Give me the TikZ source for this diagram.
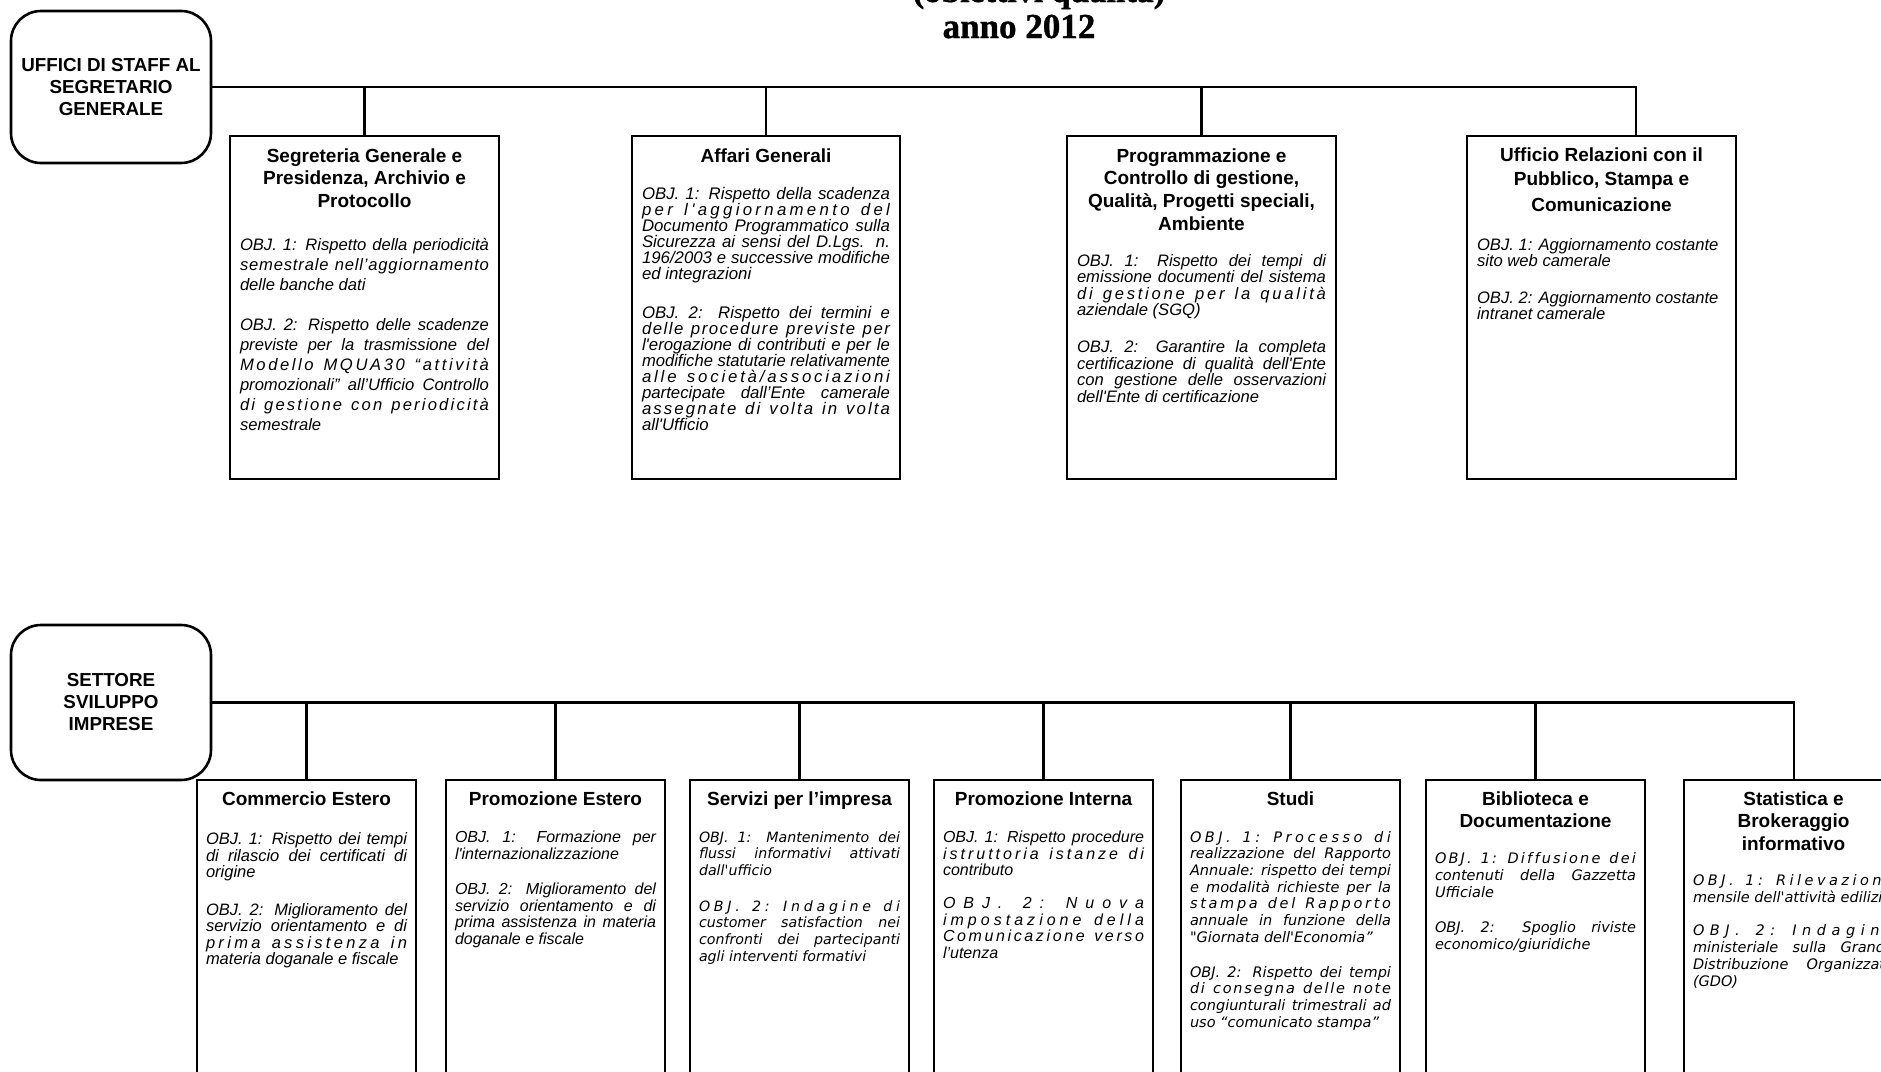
\documentclass[tikz,border=0pt]{standalone}
\usepackage{fontspec}
\usepackage{graphicx}
\setmainfont{Liberation Sans}[Ligatures=TeXOff]
\newfontfamily\Vfont{DejaVu Sans}[Ligatures=TeXOff,ItalicFont={DejaVu Sans Oblique},BoldFont={DejaVu Sans Bold}]
\newfontfamily\Sfont{Liberation Serif}[BoldFeatures={FakeBold=1}]
\newsavebox\LNbox
\newcommand\Lst{\rule{0pt}{22pt}}
\newcommand\Jline[1]{\sbox\LNbox{#1}\ifdim\wd\LNbox>\linewidth\resizebox{\linewidth}{\height}{\Lst#1}\else\makebox[\linewidth][s]{\Lst#1}\fi\par}
\ExplSyntaxOn
\NewDocumentCommand\Spread{m}{\str_map_inline:nn{#1}{##1\hfil}\unskip}
\ExplSyntaxOff
\newcommand\Lline[1]{\makebox[\linewidth][s]{\Lst\Spread{#1}}\par}
\newcommand\Pline[1]{\makebox[\linewidth][l]{\Lst#1}\par}
\newcommand\Cline[1]{\makebox[\linewidth][c]{\Lst#1}\par}
\newcommand\TitF{\lineskiplimit=-1000pt\fontsize{19}{22.7}\selectfont\bfseries}
\newcommand\ArF[2]{\fontsize{#1}{#2}\selectfont\mdseries\itshape}
\newcommand\VeF[2]{\Vfont\fontsize{#1}{#2}\selectfont\mdseries\itshape}
\tikzset{
  unit/.style={draw, line width=2.6pt, anchor=north west, inner xsep=10pt, inner ysep=0pt, outer sep=0pt},
  unitb/.style={unit, inner xsep=9pt},
  head/.style={draw, line width=2.6pt, rounded corners=30pt, minimum width=200pt, align=center,
    font=\bfseries\fontsize{18.8}{22}\selectfont, outer sep=0pt},
  link/.style={line width=2.6pt},
  ttl/.style={anchor=base, inner sep=0pt, font=\Sfont\bfseries\fontsize{34}{34}\selectfont}
}
\begin{document}
\begin{tikzpicture}[x=1pt,y=-1pt]
\useasboundingbox (0,0) rectangle (1881,1071);
\clip (0,0) rectangle (1881,1071);
% title
\node[ttl] (tt1) at (1039,2) {(obiettivi qualità)};
\node[ttl, font=\Sfont\bfseries\fontsize{35}{35}\selectfont] (tt2) at (1019,38) {anno 2012};
% heads
\node[head, minimum height=152pt] (staff) at (111,87) {UFFICI DI STAFF AL\\SEGRETARIO\\GENERALE};
\node[head, minimum height=155pt] (sett) at (111,702.5) {SETTORE\\SVILUPPO\\IMPRESE};
% top boxes
\node[unit] (seg) at (230,136) {\parbox[b][343pt][t]{249pt}{\TitF
\vspace*{4pt}
\Cline{Segreteria Generale e}
\Cline{Presidenza, Archivio e}
\Cline{Protocollo}
\ArF{16.6}{20}
\vspace{22.6pt}
\Jline{OBJ. 1: Rispetto della periodicità}
\Lline{semestrale nell’aggiornamento}
\Pline{delle banche dati}
\vspace{20pt}
\Jline{OBJ. 2: Rispetto delle scadenze}
\Jline{previste per la trasmissione del}
\Lline{Modello MQUA30 “attività}
\Jline{promozionali” all’Ufficio Controllo}
\Lline{di gestione con periodicità}
\Pline{semestrale}
}};
\node[unit] (aff) at (632,136) {\parbox[b][343pt][t]{248pt}{\TitF
\vspace*{4pt}
\Cline{Affari Generali}
\ArF{16.8}{16}
\vspace{21pt}
\Jline{OBJ. 1: Rispetto della scadenza}
\Lline{per l'aggiornamento del}
\Jline{Documento Programmatico sulla}
\Jline{Sicurezza ai sensi del D.Lgs. n.}
\Jline{196/2003 e successive modifiche}
\Pline{ed integrazioni}
\vspace{23pt}
\Jline{OBJ. 2: Rispetto dei termini e}
\Lline{delle procedure previste per}
\Jline{l'erogazione di contributi e per le}
\Jline{modifiche statutarie relativamente}
\Lline{alle società/associazioni}
\Jline{partecipate dall’Ente camerale}
\Lline{assegnate di volta in volta}
\Pline{all'Ufficio}
}};
\node[unit] (prog) at (1067,136) {\parbox[b][343pt][t]{249pt}{\TitF
\vspace*{4pt}
\Cline{Programmazione e}
\Cline{Controllo di gestione,}
\Cline{Qualità, Progetti speciali,}
\Cline{Ambiente}
\ArF{16.6}{16.5}
\vspace{19.4pt}
\Jline{OBJ. 1: Rispetto dei tempi di}
\Jline{emissione documenti del sistema}
\Lline{di gestione per la qualità}
\Pline{aziendale (SGQ)}
\vspace{20.5pt}
\Jline{OBJ. 2: Garantire la completa}
\Jline{certificazione di qualità dell'Ente}
\Jline{con gestione delle osservazioni}
\Pline{dell'Ente di certificazione}
}};
\node[unit] (uff) at (1467,136) {\parbox[b][343pt][t]{249pt}{\TitF\fontsize{19}{24}\selectfont
\vspace*{3pt}
\Cline{Ufficio Relazioni con il}
\Cline{Pubblico, Stampa e}
\vspace{2pt}
\Cline{Comunicazione}
\ArF{16.6}{16.5}
\vspace{22.5pt}
\Pline{OBJ. 1: Aggiornamento costante}
\Pline{sito web camerale}
\vspace{20pt}
\Pline{OBJ. 2: Aggiornamento costante}
\Pline{intranet camerale}
}};
% bottom boxes
\node[unitb] (com) at (197,780) {\parbox[b][330pt][t]{201pt}{\TitF
\vspace*{3pt}
\Cline{Commercio Estero}
\ArF{16.5}{16.5}
\vspace{23pt}
\Jline{OBJ. 1: Rispetto dei tempi}
\Jline{di rilascio dei certificati di}
\Pline{origine}
\vspace{21pt}
\Jline{OBJ. 2: Miglioramento del}
\Jline{servizio orientamento e di}
\Lline{prima assistenza in}
\Pline{materia doganale e fiscale}
}};
\node[unitb] (pre) at (446,780) {\parbox[b][330pt][t]{201pt}{\TitF
\vspace*{3pt}
\Cline{Promozione Estero}
\ArF{16}{16.5}
\vspace{21pt}
\Jline{OBJ. 1: Formazione per}
\Pline{l'internazionalizzazione}
\vspace{19pt}
\Jline{OBJ. 2: Miglioramento del}
\Jline{servizio orientamento e di}
\Jline{prima assistenza in materia}
\Pline{doganale e fiscale}
}};
\node[unitb] (ser) at (690,780) {\parbox[b][330pt][t]{201pt}{\TitF
\vspace*{3pt}
\Cline{Servizi per l’impresa}
\VeF{14.2}{16.7}
\vspace{20.3pt}
\Jline{OBJ. 1: Mantenimento dei}
\Jline{flussi informativi attivati}
\Pline{dall'ufficio}
\vspace{18.9pt}
\Lline{OBJ. 2: Indagine di}
\Jline{customer satisfaction nei}
\Jline{confronti dei partecipanti}
\Pline{agli interventi formativi}
}};
\node[unitb] (pri) at (934,780) {\parbox[b][330pt][t]{201pt}{\TitF
\vspace*{3pt}
\Cline{Promozione Interna}
\ArF{16}{16.5}
\vspace{21pt}
\Jline{OBJ. 1: Rispetto procedure}
\Lline{istruttoria istanze di}
\Pline{contributo}
\vspace{16.5pt}
\Lline{OBJ. 2: Nuova}
\Lline{impostazione della}
\Lline{Comunicazione verso}
\Pline{l’utenza}
}};
\node[unitb] (stu) at (1181,780) {\parbox[b][330pt][t]{201pt}{\TitF
\vspace*{3pt}
\Cline{Studi}
\VeF{14.5}{16.7}
\vspace{20.3pt}
\Lline{OBJ. 1: Processo di}
\Jline{realizzazione del Rapporto}
\Jline{Annuale: rispetto dei tempi}
\Jline{e modalità richieste per la}
\Lline{stampa del Rapporto}
\Jline{annuale in funzione della}
\Pline{"Giornata dell'Economia”}
\vspace{18.1pt}
\Jline{OBJ. 2: Rispetto dei tempi}
\Lline{di consegna delle note}
\Jline{congiunturali trimestrali ad}
\Pline{uso “comunicato stampa”}
}};
\node[unitb] (bib) at (1426,780) {\parbox[b][330pt][t]{201pt}{\TitF
\vspace*{3pt}
\Cline{Biblioteca e}
\Cline{Documentazione}
\VeF{14.5}{17}
\vspace{19pt}
\Lline{OBJ. 1: Diffusione dei}
\Jline{contenuti della Gazzetta}
\Pline{Ufficiale}
\vspace{18pt}
\Jline{OBJ. 2: Spoglio riviste}
\Pline{economico/giuridiche}
}};
\node[unitb] (sta) at (1684,780) {\parbox[b][330pt][t]{201pt}{\TitF
\vspace*{3pt}
\Cline{Statistica e}
\Cline{Brokeraggio}
\Cline{informativo}
\VeF{14.5}{17}
\vspace{18pt}
\Lline{OBJ. 1: Rilevazione}
\Pline{mensile dell'attività edilizia}
\vspace{16pt}
\Lline{OBJ. 2: Indagine}
\Jline{ministeriale sulla Grande}
\Jline{Distribuzione Organizzata}
\Pline{(GDO)}
}};
% connectors top
\coordinate (tend) at (1636,87);
\draw[link] (staff.east) -- (tend) -- (tend |- uff.north);
\foreach \n in {seg,aff,prog}{\draw[link] (\n.north) -- (\n.north |- staff.east);}
% connectors bottom
\coordinate (bend) at (1794,702.5);
\draw[link] (sett.east) -- (bend) -- (bend |- sta.north);
\foreach \n in {com,pre,ser,pri,stu,bib}{\draw[link] (\n.north) -- (\n.north |- sett.east);}
\end{tikzpicture}
\end{document}
